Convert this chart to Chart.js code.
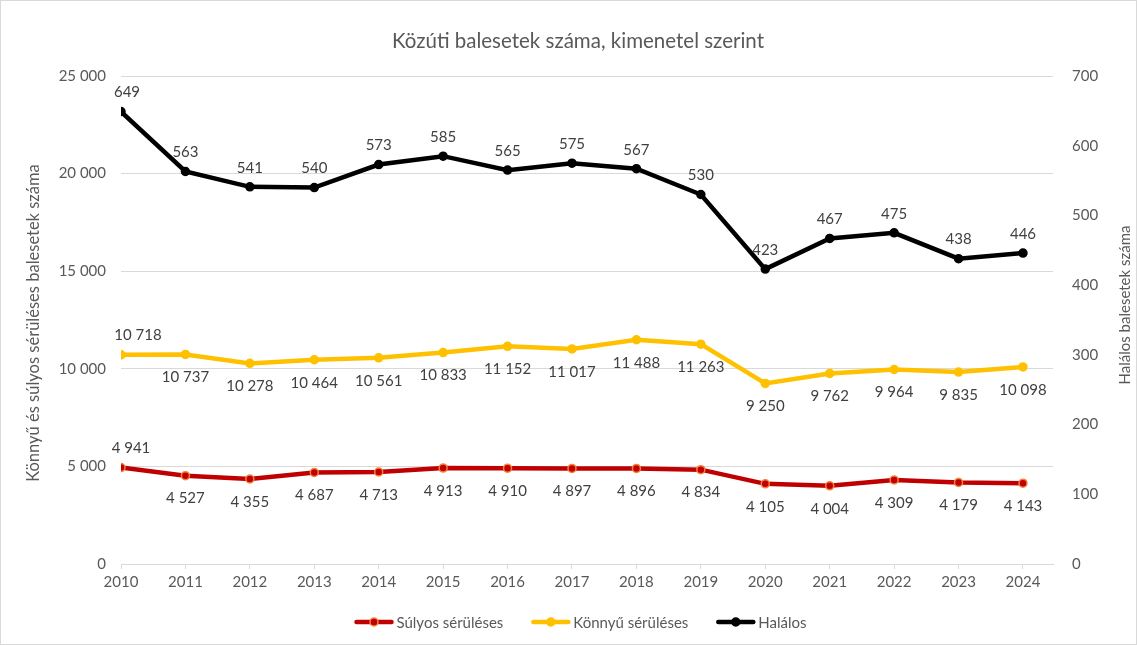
<!DOCTYPE html>
<html lang="hu">
<head>
<meta charset="utf-8">
<title>Közúti balesetek száma, kimenetel szerint</title>
<script src="https://cdn.jsdelivr.net/npm/chart.js@4/dist/chart.umd.min.js"></script>
<style>
    html, body { margin: 0; padding: 0; background: #fff; }
    #wrap { width: 1137px; height: 645px; position: relative; }
</style>
</head>
<body>
<div id="wrap"><canvas id="chart"></canvas></div>
<script>
// --- data ---
const years = [2010, 2011, 2012, 2013, 2014, 2015, 2016, 2017, 2018, 2019, 2020, 2021, 2022, 2023, 2024];
const sulyos = [4941, 4527, 4355, 4687, 4713, 4913, 4910, 4897, 4896, 4834, 4105, 4004, 4309, 4179, 4143];
const konnyu = [10718, 10737, 10278, 10464, 10561, 10833, 11152, 11017, 11488, 11263, 9250, 9762, 9964, 9835, 10098];
const halalos = [649, 563, 541, 540, 573, 585, 565, 575, 567, 530, 423, 467, 475, 438, 446];

const seriesNames = ['Súlyos sérüléses', 'Könnyű sérüléses', 'Halálos'];
const chartTitle = 'Közúti balesetek száma, kimenetel szerint';
const leftTitle = 'Könnyű és súlyos sérüléses balesetek száma';
const rightTitle = 'Halálos balesetek száma';

const FONT = "Lato, 'Open Sans', sans-serif";
const TEXT = '#595959';
const GRID = '#D9D9D9';

const fmt = v => String(v).replace(/\B(?=(\d{3})+(?!\d))/g, ' ');
const pts = arr => arr.map((v, i) => ({ x: years[i], y: v }));

// first point label above (nudged right, like Excel), others below; Halálos always above
const labelStyle = [
    i => (i === 0 ? { dy: -19, dx: 10 } : { dy: 23, dx: 0 }),
    i => (i === 0 ? { dy: -20, dx: 17 } : { dy: 23, dx: 0 }),
    i => (i === 0 ? { dy: -19, dx: 6 } : { dy: -19, dx: 0 })
];

const decorPlugin = {
    id: 'decor',
    afterDatasetsDraw(chart) {
        const ctx = chart.ctx;
        ctx.save();
        // data labels
        ctx.font = '15px ' + FONT;
        ctx.fillStyle = '#404040';
        ctx.textAlign = 'center';
        ctx.textBaseline = 'middle';
        chart.data.datasets.forEach((ds, di) => {
            const meta = chart.getDatasetMeta(di);
            meta.data.forEach((el, i) => {
                const st = labelStyle[di](i);
                ctx.fillText(fmt(ds.data[i].y), el.x + st.dx, el.y + st.dy);
            });
        });
        ctx.restore();
    },
    afterDraw(chart) {
        const ctx = chart.ctx;
        const W = chart.width, H = chart.height;
        ctx.save();
        // border
        ctx.strokeStyle = GRID;
        ctx.lineWidth = 1;
        ctx.strokeRect(0.5, 0.5, W - 1, H - 1);

        // title
        ctx.fillStyle = TEXT;
        ctx.textAlign = 'center';
        ctx.textBaseline = 'middle';
        ctx.font = '20.5px ' + FONT;
        ctx.fillText(chartTitle, 578, 41);

        // axis titles
        ctx.save();
        ctx.font = '16.5px ' + FONT;
        ctx.translate(34, 323);
        ctx.rotate(-Math.PI / 2);
        ctx.fillText(leftTitle, 0, 0);
        ctx.restore();
        ctx.save();
        ctx.font = '15px ' + FONT;
        ctx.translate(1125, 305);
        ctx.rotate(-Math.PI / 2);
        ctx.fillText(rightTitle, 0, 0);
        ctx.restore();

        // legend
        ctx.font = '15px ' + FONT;
        ctx.textAlign = 'left';
        const lineLen = 39, gapText = 3, gapItem = 28;
        const items = chart.data.datasets.map(ds => ({
            ds, w: lineLen + gapText + ctx.measureText(ds.label).width
        }));
        const total = items.reduce((s, it) => s + it.w, 0) + gapItem * (items.length - 1);
        let x = 580.5 - total / 2;
        const ly = 622;
        items.forEach(it => {
            const ds = it.ds;
            ctx.strokeStyle = ds.borderColor;
            ctx.lineWidth = ds.borderWidth;
            ctx.lineCap = 'round';
            ctx.beginPath();
            ctx.moveTo(x + 2, ly);
            ctx.lineTo(x + lineLen - 2, ly);
            ctx.stroke();
            ctx.beginPath();
            ctx.arc(x + lineLen / 2, ly, ds.pointRadius, 0, Math.PI * 2);
            ctx.fillStyle = ds.pointBackgroundColor;
            ctx.fill();
            ctx.lineWidth = ds.pointBorderWidth;
            ctx.strokeStyle = ds.pointBorderColor;
            ctx.stroke();
            ctx.fillStyle = TEXT;
            ctx.fillText(ds.label, x + lineLen + gapText, ly + 1);
            x += it.w + gapItem;
        });
        ctx.restore();
    }
};

const lineDs = (label, data, color, pointFill, pointBorder, yAxisID) => ({
    label,
    data: pts(data),
    yAxisID,
    borderColor: color,
    backgroundColor: color,
    borderWidth: 4.5,
    pointRadius: 4,
    pointBackgroundColor: pointFill,
    pointBorderColor: pointBorder,
    pointBorderWidth: 1.5,
    tension: 0,
    fill: false
});

new Chart(document.getElementById('chart'), {
    type: 'line',
    data: {
        datasets: [
            lineDs(seriesNames[0], sulyos, '#C00000', '#C00000', '#F4823C', 'y'),
            lineDs(seriesNames[1], konnyu, '#FFC000', '#FFC000', '#FFC000', 'y'),
            lineDs(seriesNames[2], halalos, '#000000', '#000000', '#000000', 'y1')
        ]
    },
    options: {
        responsive: true,
        maintainAspectRatio: false,
        animation: false,
        layout: { padding: { top: 76, bottom: 0, left: 0, right: 0 } },
        plugins: {
            legend: { display: false },
            title: { display: false },
            tooltip: { enabled: false }
        },
        scales: {
            x: {
                type: 'linear',
                min: 2010,
                max: 2024.466,
                afterBuildTicks: s => { s.ticks = years.map(y => ({ value: y })); },
                afterFit: s => { s.height = 81; },
                grid: { drawOnChartArea: false, drawTicks: true, tickLength: 5, color: GRID },
                border: { color: GRID },
                ticks: {
                    autoSkip: false,
                    maxRotation: 0,
                    padding: 4,
                    color: TEXT,
                    font: { family: FONT, size: 15 },
                    callback: v => String(v)
                }
            },
            y: {
                position: 'left',
                min: 0,
                max: 25000,
                afterFit: s => { s.width = 121; },
                grid: { color: GRID, drawTicks: false },
                border: { display: false },
                ticks: {
                    stepSize: 5000,
                    padding: 15,
                    color: TEXT,
                    font: { family: FONT, size: 15 },
                    callback: v => fmt(v)
                }
            },
            y1: {
                position: 'right',
                min: 0,
                max: 700,
                afterFit: s => { s.width = 84; },
                grid: { drawOnChartArea: false, drawTicks: false },
                border: { display: false },
                ticks: {
                    stepSize: 100,
                    padding: 19,
                    color: TEXT,
                    font: { family: FONT, size: 15 },
                    callback: v => String(v)
                }
            }
        }
    },
    plugins: [decorPlugin]
});
</script>
</body>
</html>
